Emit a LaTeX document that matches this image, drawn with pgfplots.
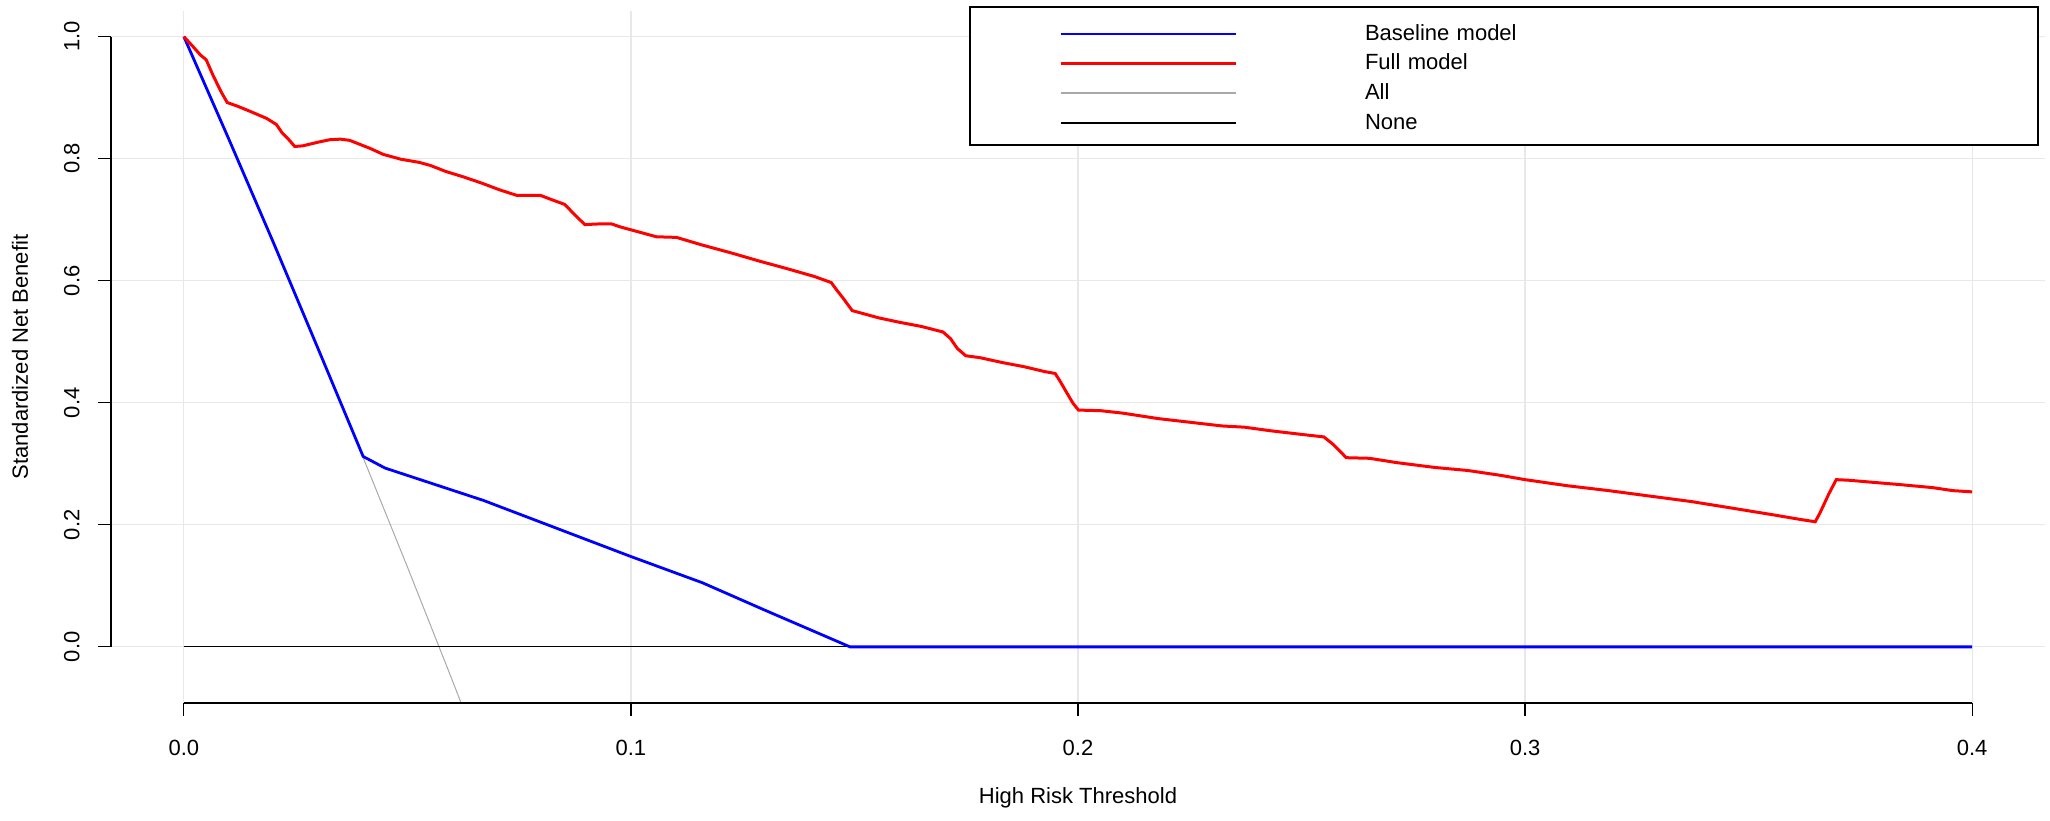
\documentclass[border=0pt]{standalone}
\usepackage{fontspec}
\setmainfont{Liberation Sans}
\usepackage{pgfplots}
\pgfplotsset{compat=1.18}
\definecolor{rgray}{HTML}{A9A9A9}
\begin{document}
\begin{tikzpicture}
\begin{axis}[
	scale only axis,
	width=967pt, height=346pt,
	xmin=-0.0163, xmax=0.4163,
	ymin=-0.092, ymax=1.042,
	clip mode=individual,
	axis x line*=bottom, axis y line*=left,
	axis line style={draw=none},
	xtick={0,0.1,0.2,0.3,0.4},
	ytick={0,0.2,0.4,0.6,0.8,1.0},
	tick align=outside,
	major tick length=6.5pt,
	tick style={black, line width=0.6pt},
	grid=major,
	major grid style={black!9, line width=0.6pt},
	ticklabel style={font=\fontsize{11}{13}\selectfont},
	xticklabel style={inner sep=0pt, anchor=north,
		/pgf/number format/.cd, fixed, fixed zerofill, precision=1, assume math mode=true},
	yticklabel style={rotate=90, inner sep=0pt, anchor=south,
		/pgf/number format/.cd, fixed, fixed zerofill, precision=1, assume math mode=true},
	xticklabel shift=12pt,
	yticklabel shift=9pt,
	xlabel={High Risk Threshold},
	ylabel={Standardized Net Benefit},
	label style={font=\fontsize{11}{13}\selectfont},
	xlabel style={at={(axis description cs:0.5,-0.137)}, anchor=center},
	ylabel style={at={(axis description cs:-0.047,0.5)}, anchor=center},
	legend cell align=left,
	legend image code/.code={
		\path (-44.5pt,0pt) (151.5pt,0pt);
		\draw[#1] (0pt,-1.1pt) -- (87.5pt,-1.1pt);
	},
	legend style={at={(1,1)}, anchor=north east, xshift=-3pt, yshift=2.25pt,
		draw=black, line width=1pt, fill=white,
		inner xsep=0pt, inner ysep=4.7pt, row sep=0pt, column sep=0pt,
		font=\fontsize{11}{13}\selectfont,
		nodes={inner sep=0pt, text height=11.6pt, text depth=3.23pt,
			text width=336.5pt, align=left}},
]

% All
\addplot[rgray, line width=0.5pt, forget plot] table {
x y
0 1.0
0.01 0.833
0.02 0.663
0.03 0.489
0.04 0.312
0.05 0.131
0.06 -0.054
0.07 -0.243
};

% None
\addplot[black, line width=0.6pt, forget plot] table {
x y
0 0
0.4 0
};

% Baseline model
\addplot[blue, line width=1.4pt, forget plot] table {
x y
0 1.0
0.01 0.833
0.02 0.663
0.03 0.489
0.0401 0.312
0.045 0.293
0.067 0.240
0.1 0.148
0.116 0.105
0.13 0.060
0.149 0.0
0.4 0.0
};

% Full model
\addplot[red, line width=1.5pt, forget plot] table {
x y
0 1.0
0.002 0.984
0.0037 0.970
0.005 0.962
0.0065 0.937
0.0083 0.910
0.0097 0.892
0.012 0.886
0.015 0.877
0.0185 0.866
0.0207 0.856
0.022 0.842
0.0235 0.831
0.0248 0.820
0.0266 0.821
0.030 0.827
0.0326 0.831
0.035 0.832
0.0371 0.830
0.0416 0.817
0.0446 0.807
0.0486 0.799
0.0526 0.794
0.0551 0.789
0.0586 0.779
0.0626 0.770
0.0666 0.760
0.0706 0.749
0.0744 0.740
0.0797 0.740
0.0822 0.733
0.0852 0.725
0.0877 0.706
0.0897 0.692
0.0927 0.693
0.0957 0.693
0.0977 0.688
0.1027 0.678
0.1057 0.672
0.1102 0.671
0.1157 0.659
0.1227 0.645
0.1288 0.632
0.1348 0.620
0.141 0.607
0.1448 0.597
0.146 0.585
0.1475 0.571
0.1495 0.551
0.151 0.548
0.1555 0.539
0.160 0.532
0.165 0.525
0.1698 0.516
0.1715 0.505
0.173 0.489
0.1749 0.477
0.178 0.474
0.183 0.466
0.188 0.459
0.1926 0.451
0.1949 0.448
0.1961 0.434
0.1976 0.415
0.1989 0.399
0.2001 0.388
0.2051 0.387
0.210 0.383
0.218 0.374
0.2251 0.368
0.2322 0.362
0.2372 0.360
0.2432 0.354
0.2502 0.348
0.255 0.344
0.2572 0.331
0.260 0.310
0.2652 0.309
0.2712 0.302
0.2798 0.294
0.2872 0.289
0.2946 0.281
0.300 0.274
0.3095 0.264
0.3187 0.256
0.328 0.247
0.3373 0.238
0.3466 0.227
0.3558 0.216
0.3614 0.209
0.3649 0.205
0.366 0.220
0.3679 0.250
0.3696 0.274
0.3725 0.273
0.3772 0.270
0.3837 0.266
0.3911 0.261
0.3957 0.256
0.400 0.254
};

\addlegendimage{blue, line width=1.3pt}
\addlegendentry{Baseline model}
\addlegendimage{red, line width=1.5pt}
\addlegendentry{Full model}
\addlegendimage{rgray, line width=0.8pt}
\addlegendentry{All}
\addlegendimage{black, line width=0.8pt}
\addlegendentry{None}

% R-style axis lines, from first to last tick
\draw[black, line width=0.6pt] (axis cs:0,-0.092) -- (axis cs:0.4,-0.092);
\draw[black, line width=0.6pt] (axis cs:-0.0163,0) -- (axis cs:-0.0163,1);
\end{axis}
\pgfresetboundingbox
\path[use as bounding box] ([shift={(-55.5pt,-58.5pt)}]current axis.south west)
	rectangle ([shift={(2.5pt,5.5pt)}]current axis.north east);
\end{tikzpicture}
\end{document}
